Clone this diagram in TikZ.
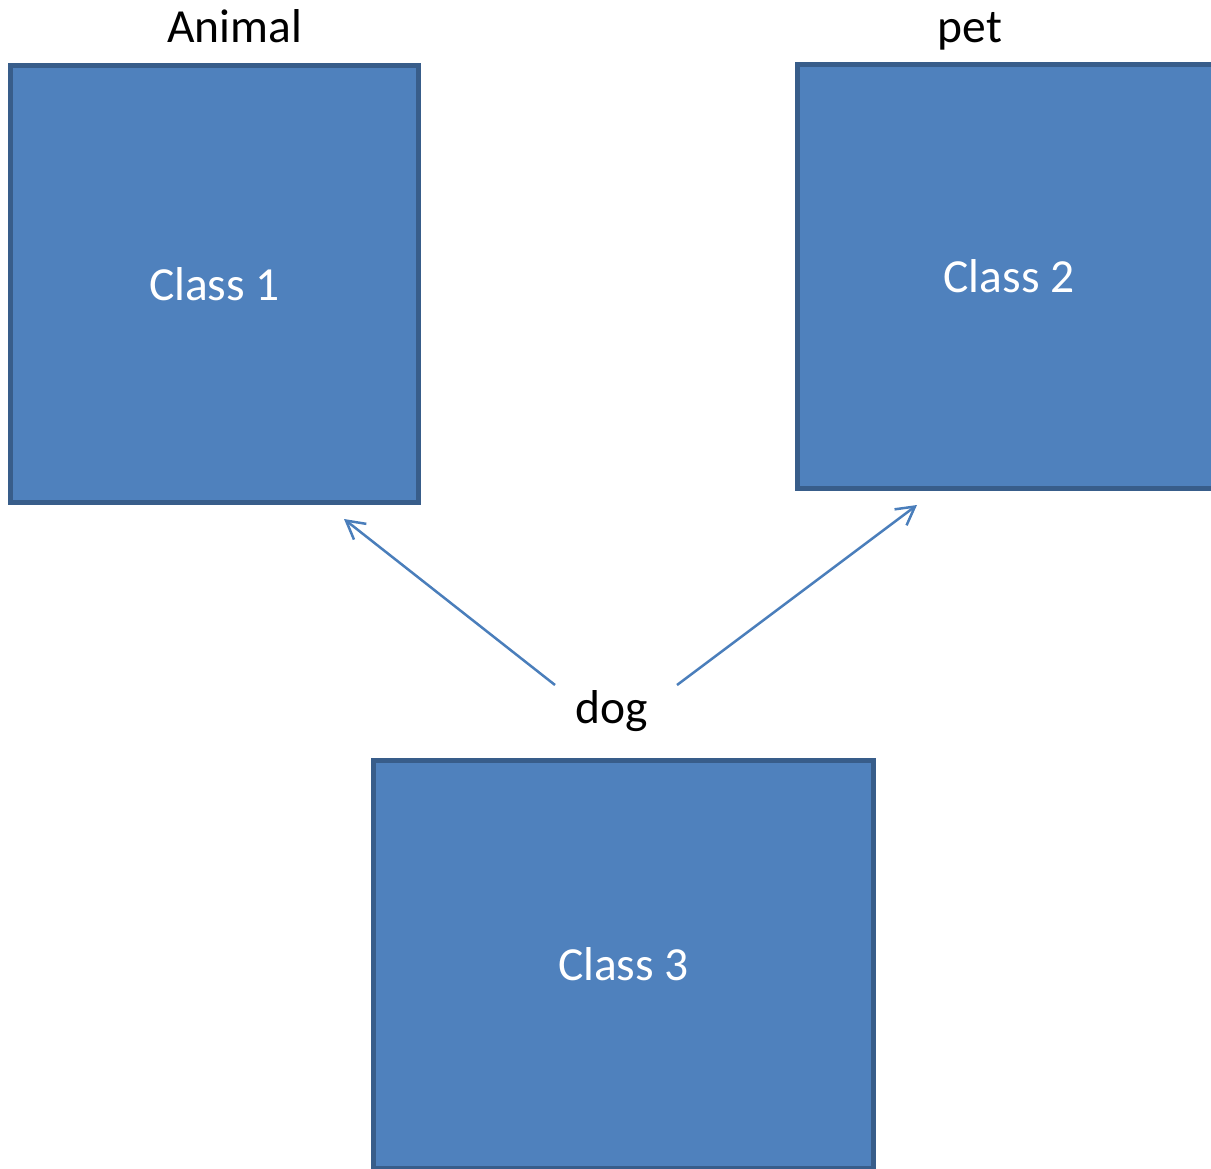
\documentclass[tikz,border=0pt]{standalone}
\usepackage{fontspec}
\setmainfont{Carlito}
\usetikzlibrary{arrows.meta}
\definecolor{boxfill}{HTML}{4F81BD}
\definecolor{boxline}{HTML}{385D8A}
\definecolor{linkcol}{HTML}{4A7EBB}
\begin{document}
\begin{tikzpicture}[x=1pt,y=-1pt,
  classbox/.style={draw=boxline,fill=boxfill,line width=5pt,rectangle,inner sep=0pt,
    text=white,font=\fontsize{47.5}{57}\selectfont},
  tag/.style={anchor=base,inner sep=0pt,text=black,font=\fontsize{47.5}{57}\selectfont},
  link/.style={draw=linkcol,line width=2.5pt,-{Straight Barb[length=18pt,width=20pt,line width=2.5pt]}}]
\useasboundingbox (0,0) rectangle (1211,1169);
\clip (0,0) rectangle (1211,1169);
% class boxes
\node[classbox,minimum width=408pt,minimum height=437pt] (c1) at (214.5,284) {Class 1};
\node[classbox,minimum width=423pt,minimum height=424pt] (c2) at (1009,276.5) {Class 2};
\node[classbox,minimum width=500pt,minimum height=408pt] (c3) at (623.5,964.5) {Class 3};
% labels
\node[tag] (animal) at (234.5,43) {Animal};
\node[tag] (pet) at (970,43) {pet};
\node[tag] (dog) at (611.5,723) {dog};
% connector ends
\coordinate (fromL) at (555,685);
\coordinate (fromR) at (677,685);
\coordinate (toL) at (344,519);
\coordinate (toR) at (917,505);
\draw[link] (fromL) -- (toL);
\draw[link] (fromR) -- (toR);
\end{tikzpicture}
\end{document}
